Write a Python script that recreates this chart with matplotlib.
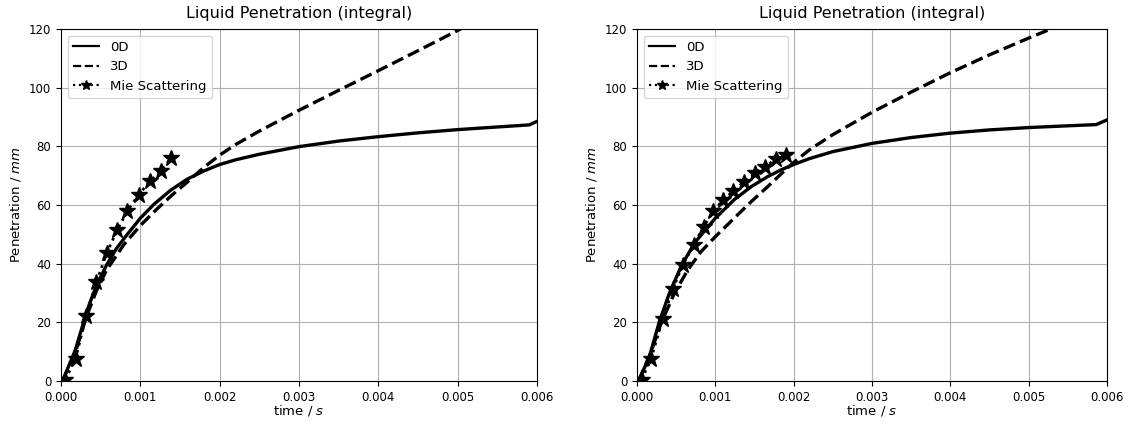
import numpy as np
import matplotlib.pyplot as plt
from matplotlib.lines import Line2D
from matplotlib.ticker import FormatStrFormatter

# ── data (time in s, penetration in mm) ─────────────────────────────────────
# left panel
t_0d_a = [0.00002, 0.00008, 0.00018, 0.00028, 0.00036, 0.00045, 0.000574, 0.0007,
          0.00083, 0.001, 0.00117, 0.00138, 0.00159, 0.0018, 0.002, 0.0022,
          0.0025, 0.003, 0.0035, 0.004, 0.0045, 0.005, 0.0055, 0.0059, 0.006]
p_0d_a = [0.0, 4.0, 10.5, 19.6, 26.4, 32.7, 39.5, 45.2,
          49.8, 55.5, 60.2, 65.0, 68.8, 71.6, 73.8, 75.4,
          77.3, 79.9, 81.8, 83.3, 84.6, 85.7, 86.6, 87.3, 88.5]

t_3d_a = [0.00002, 0.00019, 0.00032, 0.00045, 0.000574, 0.00079, 0.001, 0.0012,
          0.0014, 0.0016, 0.0018, 0.002, 0.0022, 0.0025, 0.003, 0.0035,
          0.004, 0.0045, 0.005, 0.00505]
p_3d_a = [0.0, 10.5, 21.9, 31.0, 37.8, 46.4, 53.0, 58.4,
          63.4, 68.0, 72.8, 77.0, 80.6, 85.2, 92.3, 99.1,
          105.8, 112.6, 119.5, 120.2]

t_mie_a = [0.000055, 0.000183, 0.000319, 0.000447, 0.000574, 0.00071, 0.000838,
           0.000979, 0.00112, 0.001255, 0.00139]
p_mie_a = [0.5, 7.6, 22.2, 33.8, 43.5, 51.5, 58.1, 63.5, 68.1, 71.5, 76.1]

# right panel
t_0d_b = [0.00002, 0.000157, 0.000285, 0.000413, 0.000562, 0.000732, 0.001, 0.00124,
          0.00146, 0.00167, 0.00184, 0.002, 0.0022, 0.0025, 0.003, 0.0035,
          0.004, 0.0045, 0.005, 0.0055, 0.00586, 0.006]
p_0d_b = [0.0, 8.2, 20.2, 29.9, 39.0, 47.0, 55.5, 61.8,
          66.3, 69.7, 72.0, 73.8, 75.8, 78.2, 81.0, 83.0,
          84.5, 85.6, 86.4, 87.0, 87.4, 89.0]

t_3d_b = [0.00002, 0.000179, 0.000306, 0.000477, 0.000647, 0.000817, 0.001, 0.00124,
          0.00146, 0.00167, 0.00188, 0.002, 0.0022, 0.0025, 0.003, 0.0035,
          0.004, 0.0045, 0.005, 0.0053, 0.0054]
p_3d_b = [0.0, 9.9, 19.6, 29.9, 37.8, 44.1, 49.2, 55.5,
          61.2, 66.3, 71.6, 74.5, 78.8, 84.0, 91.6, 98.5,
          105.1, 111.2, 116.9, 120.2, 121.3]

t_mie_b = [0.00006, 0.000179, 0.000328, 0.000455, 0.000583, 0.000723, 0.000851,
           0.000974, 0.0011, 0.00123, 0.00137, 0.00151, 0.00163, 0.00177, 0.0019]
p_mie_b = [0.5, 7.6, 21.0, 31.2, 39.5, 46.4, 52.6,
           57.8, 61.8, 64.8, 68.0, 70.9, 72.9, 75.7, 77.2]

panels = [
    (t_0d_a, p_0d_a, t_3d_a, p_3d_a, t_mie_a, p_mie_a),
    (t_0d_b, p_0d_b, t_3d_b, p_3d_b, t_mie_b, p_mie_b),
]

fig = plt.figure(figsize=(11.33, 4.23), dpi=100)
W, H = 1133, 423
boxes = [(61, 537), (637, 1107)]   # axes left/right edges in pixels
y_top, y_bot = 29, 381

# legend proxies: thinner lines and a small star, as in the reference
handles = [
    Line2D([], [], color='k', linestyle='-', linewidth=1.6),
    Line2D([], [], color='k', linestyle='--', linewidth=1.6),
    Line2D([], [], color='k', linestyle=':', linewidth=1.6, marker='*', markersize=7),
]
labels = ['0D', '3D', 'Mie Scattering']

for (x0, x1), (t0, p0, t3, p3, tm, pm) in zip(boxes, panels):
    ax = fig.add_axes([x0 / W, 1 - y_bot / H, (x1 - x0) / W, (y_bot - y_top) / H])
    ax.plot(t0, p0, color='k', linestyle='-', linewidth=2.4,
            solid_joinstyle='round')
    ax.plot(t3, p3, color='k', linestyle='--', linewidth=2.4)
    ax.plot(tm, pm, color='k', linestyle=':', linewidth=2.0, marker='*',
            markersize=12)

    ax.set_xlim(0, 0.006)
    ax.set_ylim(0, 120)
    ax.xaxis.set_major_formatter(FormatStrFormatter('%.3f'))
    ax.tick_params(labelsize=8.5)
    ax.grid(True)
    ax.set_title('Liquid Penetration (integral)', fontsize=11.5, pad=8)
    ax.set_xlabel('time / $s$', fontsize=9.5, labelpad=-0.5)
    ax.set_ylabel('Penetration / $mm$', fontsize=9.5)
    ax.legend(handles, labels, loc='upper left', fontsize=9.5)

fig.savefig('out.png', dpi=100)
